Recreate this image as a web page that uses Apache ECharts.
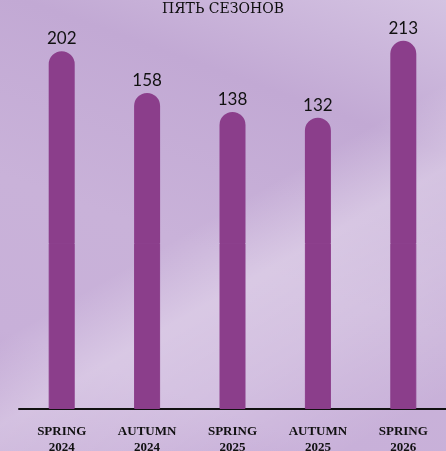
<!DOCTYPE html>
<html>
<head>
<meta charset="utf-8">
<script src="https://cdn.jsdelivr.net/npm/echarts@6/dist/echarts.min.js"></script>
<style>
  html, body { margin: 0; padding: 0; }
  body {
    width: 446px; height: 451px; overflow: hidden;
    background:
      linear-gradient(150deg, rgba(255,255,255,0) 0%, rgba(255,255,255,0) 48%, rgba(255,255,255,0.30) 60%, rgba(255,255,255,0.2) 74%, rgba(255,255,255,0) 92%),
      linear-gradient(200deg, #d4c3e2 0%, #c2a9d4 25%, #c9b2d9 55%, #c8b0d9 80%, #bfa3d2 100%);
  }
  #chart { width: 446px; height: 451px; }
</style>
</head>
<body>
<div id="chart"></div>
<script>
// данные графика
const titleText = 'ПЯТЬ СЕЗОНОВ';
const seasons = ['SPRING\n2024', 'AUTUMN\n2024', 'SPRING\n2025', 'AUTUMN\n2025', 'SPRING\n2026'];
const counts = [202, 158, 138, 132, 213];

// столбцы на оригинале не от нуля: невидимое смещение под каждым
const baseOffset = 175;
const barColor = '#8b3e8b';

const chart = echarts.init(document.getElementById('chart'));

chart.setOption({
  backgroundColor: 'transparent',
  title: {
    text: titleText,
    left: 'center',
    top: -3,
    textStyle: {
      fontFamily: 'DejaVu Serif',
      fontSize: 14,
      fontWeight: 'normal',
      color: '#0d0d0d'
    }
  },
  grid: {
    left: 19,
    right: 0,
    top: 20,
    bottom: 42,
    containLabel: false,
    outerBoundsMode: 'none'
  },
  xAxis: {
    type: 'category',
    data: seasons,
    axisLine: { show: true, onZero: false, lineStyle: { color: '#111', width: 2 } },
    axisTick: { show: false },
    axisLabel: {
      interval: 0,
      margin: 15,
      fontFamily: 'Liberation Serif',
      fontWeight: 'bold',
      fontSize: 13,
      lineHeight: 16,
      color: '#111'
    }
  },
  yAxis: {
    type: 'value',
    min: 0,
    max: 410,
    show: false,
    splitLine: { show: false }
  },
  series: [{
    type: 'bar',
    stack: 'total',
    data: counts.map(() => baseOffset),
    barWidth: 26,
    itemStyle: { color: barColor, borderColor: barColor, borderWidth: 1 },
    silent: true
  }, {
    type: 'bar',
    stack: 'total',
    data: counts,
    barWidth: 26,
    itemStyle: {
      color: barColor,
      borderRadius: [13, 13, 0, 0]
    },
    label: {
      show: true,
      position: 'top',
      distance: 4,
      fontFamily: 'Lato',
      fontSize: 17,
      color: '#111'
    }
  }]
});
</script>
</body>
</html>
